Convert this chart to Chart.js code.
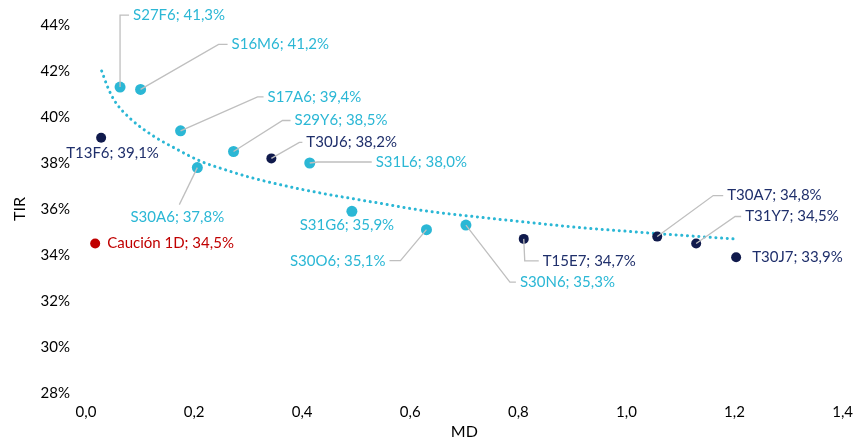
<!DOCTYPE html>
<html>
<head>
<meta charset="utf-8">
<script src="https://cdn.jsdelivr.net/npm/chart.js@4/dist/chart.umd.min.js"></script>
<style>
  html, body { margin: 0; padding: 0; background: #fff; }
  #wrap { width: 863px; height: 441px; }
</style>
</head>
<body>
<div id="wrap"><canvas id="myChart"></canvas></div>
<script>
// Lecaps (S...)
const lecapNames = ["S27F6", "S16M6", "S17A6", "S29Y6", "S30A6", "S31L6", "S31G6", "S30O6", "S30N6"];
const lecapMD = [0.063, 0.101, 0.175, 0.273, 0.206, 0.414, 0.492, 0.630, 0.703];
const lecapTIR = [41.3, 41.2, 39.4, 38.5, 37.8, 38.0, 35.9, 35.1, 35.3];

// Boncaps (T...)
const boncapNames = ["T13F6", "T30J6", "T15E7", "T30A7", "T31Y7", "T30J7"];
const boncapMD = [0.028, 0.343, 0.810, 1.057, 1.129, 1.203];
const boncapTIR = [39.1, 38.2, 34.7, 34.8, 34.5, 33.9];

// Caución
const caucionNames = ["Caución 1D"];
const caucionMD = [0.017];
const caucionTIR = [34.5];

// tendencia
const trendMD = [0.029, 0.041, 0.053, 0.081, 0.123, 0.168, 0.210, 0.265, 0.308, 0.400, 0.541, 0.634, 0.726, 0.818, 0.910, 1.002, 1.063, 1.199];
const trendTIR = [42.0, 41.25, 40.7, 39.95, 39.2, 38.6, 38.1, 37.65, 37.35, 36.85, 36.26, 35.9, 35.65, 35.42, 35.2, 35.03, 34.92, 34.70];

const xTicks = [0, 0.2, 0.4, 0.6, 0.8, 1.0, 1.2, 1.4];
const yTicks = [28, 30, 32, 34, 36, 38, 40, 42, 44];

// posición de etiquetas: offset del texto (tx,ty), codo de la guía (ex,ey), alineación
const lecapLabelPos = [
  { tx: 13, ty: -72, ex: 0, ey: -72, align: "left" },
  { tx: 91, ty: -45, ex: 78, ey: -45, align: "left" },
  { tx: 87, ty: -34, ex: 77, ey: -34, align: "left" },
  { tx: 61, ty: -31, ex: 49, ey: -31, align: "left" },
  { tx: -20, ty: 50, ex: -18, ey: 37, align: "center", noTail: true },
  { tx: 66, ty: -1, ex: 8, ey: -1, align: "left" },
  { tx: -5, ty: 14, align: "center" },
  { tx: -41, ty: 31, ex: -26, ey: 31, align: "right" },
  { tx: 54, ty: 57, ex: 44, ey: 57, align: "left" }
];
const boncapLabelPos = [
  { tx: -35, ty: 15, align: "left" },
  { tx: 35, ty: -16, ex: 28, ey: -16, align: "left" },
  { tx: 19, ty: 22, ex: 1, ey: 22, align: "left" },
  { tx: 70, ty: -41, ex: 56, ey: -41, align: "left" },
  { tx: 49, ty: -27, ex: 39, ey: -27, align: "left" },
  { tx: 16, ty: 0, align: "left" }
];
const caucionLabelPos = [{ tx: 12, ty: 0, align: "left" }];

const CYAN = "#2BB7D5";
const NAVY_DOT = "#101A4C";
const NAVY_TXT = "#1F2F6B";
const RED = "#C00000";
const FONT = "Lato, 'Open Sans', sans-serif";

const fmt = (v, d) => v.toFixed(d).replace(".", ",");
const toPts = (xs, ys) => xs.map((x, i) => ({ x: x, y: ys[i] }));

const labelPlugin = {
  id: "pointLabels",
  afterDatasetsDraw(chart) {
    const ctx = chart.ctx;
    chart.data.datasets.forEach((ds, di) => {
      if (!ds.names) return;
      const meta = chart.getDatasetMeta(di);
      meta.data.forEach((el, i) => {
        const p = ds.labelPos[i];
        const text = ds.names[i] + "; " + fmt(ds.data[i].y, 1) + "%";
        ctx.save();
        ctx.font = "15px " + FONT;
        const tx = el.x + p.tx, ty = el.y + p.ty;
        if (p.ex !== undefined) {
          ctx.strokeStyle = "#BFBFBF";
          ctx.lineWidth = 1.3;
          ctx.beginPath();
          ctx.moveTo(el.x, el.y);
          ctx.lineTo(el.x + p.ex, el.y + p.ey);
          if (!p.noTail) {
            if (p.align === "right") ctx.lineTo(tx + 4, ty);
            else ctx.lineTo(tx - 4, ty);
          }
          ctx.stroke();
        }
        ctx.fillStyle = ds.labelColor;
        ctx.textBaseline = "middle";
        ctx.textAlign = p.align;
        ctx.fillText(text, tx, ty);
        ctx.restore();
      });
    });
  }
};

const chartEl = document.getElementById("myChart");

new Chart(chartEl, {
  type: "scatter",
  data: {
    datasets: [
      {
        label: "Tendencia",
        data: toPts(trendMD, trendTIR),
        showLine: true,
        pointRadius: 0,
        borderColor: CYAN,
        borderWidth: 3,
        borderDash: [0.1, 5.6],
        borderCapStyle: "round",
        cubicInterpolationMode: "monotone",
        order: 5
      },
      {
        label: "Lecaps",
        data: toPts(lecapMD, lecapTIR),
        names: lecapNames,
        labelPos: lecapLabelPos,
        labelColor: CYAN,
        backgroundColor: CYAN,
        borderWidth: 0,
        pointRadius: 5.5,
        order: 1
      },
      {
        label: "Boncaps",
        data: toPts(boncapMD, boncapTIR),
        names: boncapNames,
        labelPos: boncapLabelPos,
        labelColor: NAVY_TXT,
        backgroundColor: NAVY_DOT,
        borderWidth: 0,
        pointRadius: 5,
        order: 1
      },
      {
        label: "Caución",
        data: toPts(caucionMD, caucionTIR),
        names: caucionNames,
        labelPos: caucionLabelPos,
        labelColor: RED,
        backgroundColor: RED,
        borderWidth: 0,
        pointRadius: 5,
        order: 1
      }
    ]
  },
  options: {
    responsive: true,
    maintainAspectRatio: false,
    animation: false,
    layout: { padding: { top: 25, right: 17, left: 0, bottom: 0 } },
    plugins: {
      legend: { display: false },
      tooltip: { enabled: false }
    },
    scales: {
      x: {
        type: "linear",
        min: 0,
        max: 1.4,
        afterBuildTicks: (s) => { s.ticks = xTicks.map((v) => ({ value: v })); },
        afterFit: (s) => { s.height = 48; },
        grid: { display: false, drawTicks: false },
        border: { display: false },
        ticks: {
          padding: 10,
          color: "#000",
          font: { family: FONT, size: 15 },
          callback: (v) => fmt(v, 1)
        },
        title: {
          display: true,
          text: "MD",
          color: "#000",
          font: { family: FONT, size: 16 },
          padding: { top: 0, bottom: 0 }
        }
      },
      y: {
        type: "linear",
        min: 28,
        max: 44,
        afterBuildTicks: (s) => { s.ticks = yTicks.map((v) => ({ value: v })); },
        afterFit: (s) => { s.width = 86; },
        grid: { display: false, drawTicks: false },
        border: { display: false },
        ticks: {
          padding: 16,
          color: "#000",
          font: { family: FONT, size: 15 },
          callback: (v) => v + "%"
        },
        title: {
          display: true,
          text: "TIR",
          color: "#000",
          font: { family: FONT, size: 16 },
          padding: { top: 10, bottom: 0 }
        }
      }
    }
  },
  plugins: [labelPlugin]
});
</script>
</body>
</html>
